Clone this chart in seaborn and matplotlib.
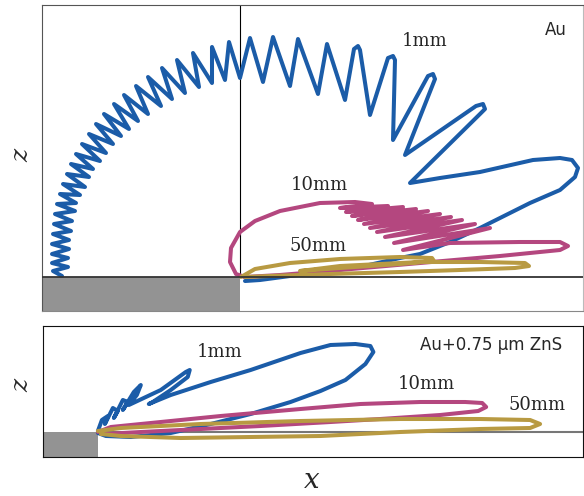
import numpy as np
import matplotlib
matplotlib.use("Agg")
import matplotlib.pyplot as plt
import pandas as pd
import seaborn as sns

# trajectory data (x, z), z = 0 is the surface
# --- upper panel: Au ---
au_1mm_x = [-178, -187, -172, -188, -172, -188, -171, -188, -171, -187, -169, -186, -168, -185, -165,
            -183, -164, -180, -160, -177, -155, -173, -151, -169, -147, -164, -140, -158, -134, -151,
            -127, -144, -119, -136, -111, -126, -102, -116, -92, -104, -79, -92, -68, -78, -55, -63,
            -41, -47, -28, -28, -15, -11, 0, 10, 23, 33, 50, 58, 78, 87, 105, 114, 118, 120, 130,
            148, 153, 155, 153, 188, 193, 195, 165, 236, 243, 245, 240, 170,
            200, 240, 293, 320, 332, 338, 335, 320, 290, 270, 240, 210, 180,
            160, 120, 80, 50, 20, 5]
au_1mm_z = [1, 6, 10, 14, 19, 23, 28, 33, 37, 43, 46, 53, 56, 63, 66,
            73, 74, 83, 82, 93, 90, 103, 100, 113, 108, 123, 116, 133, 124, 143,
            133, 153, 141, 163, 148, 173, 156, 182, 163, 191, 171, 200, 178, 209, 184, 217,
            190, 224, 194, 230, 197, 235, 199, 239, 195, 240, 191, 238, 183, 233, 177, 228, 231, 227, 162,
            219, 221, 217, 137, 201, 203, 198, 122, 171, 173, 168, 163, 94,
            99, 105, 117, 119, 117, 109, 100, 87, 74, 64, 49, 35, 23,
            19, 10, 5, 1, -3, -4]

au_10mm_x = [5, -4, -10, -9, 0, 15, 40, 80, 115,
             132, 100, 148, 106, 163, 112, 176, 118, 188, 124, 200, 130,
             211, 137, 222, 145, 235, 154, 250, 163,
             210, 280, 320, 328, 320, 260, 180, 100, 40, 5]
au_10mm_z = [0, 3, 15, 29, 45, 56, 66, 74, 75,
             73, 69, 71, 65, 70, 61, 68, 57, 66, 53, 63, 49,
             60, 45, 57, 40, 53, 34, 49, 27,
             34, 35, 35, 31, 27, 21, 14, 7, 2, 0]

au_50mm_x = [1, 15, 50, 100, 160, 192, 194, 160, 100, 60, 100, 180, 240, 285, 289, 275, 220, 160, 90, 30, 5]
au_50mm_z = [0, 8, 14, 18, 20, 19, 16, 13, 9, 6, 11, 15, 15, 14, 11, 9, 7, 5, 3, 1, 0]

# --- lower panel: Au + 0.75 um ZnS ---
zns_1mm_x = [0, 4, 10, 7, 15, 20, 16, 25, 30, 25, 36, 43, 39, 31, 63, 88, 92, 90, 73, 55, 51, 73,
             113, 153, 203, 233, 258, 273, 276, 268, 248, 223, 193, 153, 113, 73, 33, 8, 0]
zns_1mm_z = [1, 12, 16, 8, 24, 21, 14, 32, 30, 22, 40, 47, 37, 27, 42, 60, 62, 55, 42, 30, 28, 37,
             50, 62, 79, 87, 88, 86, 80, 68, 52, 41, 30, 18, 8, -1, -5, -4, -1]

zns_10mm_x = [0, 13, 63, 123, 203, 263, 323, 368, 385, 389, 381, 343, 283, 233, 163, 103, 43, 8]
zns_10mm_z = [0, 5, 10, 16, 23, 28, 30, 30, 29, 25, 21, 17, 13, 10, 6, 3, 0, -2]

zns_50mm_x = [0, 23, 103, 203, 303, 383, 433, 443, 433, 383, 303, 223, 153, 83, 23, 3]
zns_50mm_z = [1, 4, 8, 11, 13, 13, 12, 8, 4, 3, 0, -4, -5, -6, -4, -2]

blue, pink, gold = "#1b5ca8", "#b4477f", "#b89a42"

top_curves = [(au_1mm_x, au_1mm_z, blue), (au_10mm_x, au_10mm_z, pink), (au_50mm_x, au_50mm_z, gold)]
bot_curves = [(zns_1mm_x, zns_1mm_z, blue), (zns_10mm_x, zns_10mm_z, pink), (zns_50mm_x, zns_50mm_z, gold)]

sns.set_style("white")
fig = plt.figure(figsize=(5.84, 4.96), dpi=100)
ax1 = fig.add_axes([42 / 584, 1 - 311 / 496, 541 / 584, 306 / 496])
ax2 = fig.add_axes([43 / 584, 1 - 457 / 496, 540 / 584, 131 / 496])


def draw(ax, curves):
    for xs, zs, c in curves:
        df = pd.DataFrame({"x": xs, "z": zs})
        sns.lineplot(data=df, x="x", y="z", sort=False, estimator=None, color=c,
                     linewidth=2.9, solid_joinstyle="round", solid_capstyle="round", ax=ax)


# upper panel
ax1.set_xlim(-198, 343)
ax1.set_ylim(-34, 272)
ax1.add_patch(plt.Rectangle((-198, -34), 198, 34, color="#939393", zorder=0, lw=0))
draw(ax1, top_curves)
ax1.axhline(0, color="#333333", lw=1.3, zorder=5)
ax1.plot([0, 0], [0, 272], color="black", lw=0.8, zorder=1)
ax1.text(185, 236, "1mm", family="DejaVu Serif", fontsize=13, ha="center", va="center")
ax1.text(79, 92, "10mm", family="DejaVu Serif", fontsize=13, ha="center", va="center")
ax1.text(78, 31, "50mm", family="DejaVu Serif", fontsize=13, ha="center", va="center")
ax1.text(316, 247, "Au", fontsize=12, ha="center", va="center")
for s in ["left", "top"]:
    ax1.spines[s].set_color("#555555")
ax1.spines["right"].set_color("#bbbbbb")
ax1.spines["bottom"].set_color("#888888")

# lower panel
ax2.set_xlim(-55, 486)
ax2.set_ylim(-25, 106)
ax2.add_patch(plt.Rectangle((-55, -25), 55, 25, color="#939393", zorder=0, lw=0))
draw(ax2, bot_curves)
ax2.plot([0, 486], [0, 0], color="#777777", lw=1.5, zorder=1)
ax2.text(122, 80, "1mm", family="DejaVu Serif", fontsize=13, ha="center", va="center")
ax2.text(329, 48, "10mm", family="DejaVu Serif", fontsize=13, ha="center", va="center")
ax2.text(440, 27, "50mm", family="DejaVu Serif", fontsize=13, ha="center", va="center")
ax2.text(394, 87, "Au+0.75 \u03bcm ZnS", fontsize=12, ha="center", va="center")
for s in ax2.spines.values():
    s.set_color("#111111")

for ax in (ax1, ax2):
    ax.set_xticks([])
    ax.set_yticks([])
    ax.set_xlabel("")
    ax.set_ylabel("")

fig.text(22 / 584, 1 - 155 / 496, "z", family="DejaVu Serif", style="italic", fontsize=18,
         rotation=90, ha="center", va="center")
fig.text(22 / 584, 1 - 385 / 496, "z", family="DejaVu Serif", style="italic", fontsize=18,
         rotation=90, ha="center", va="center")
fig.text(312 / 584, 1 - 481 / 496, "x", family="DejaVu Serif", style="italic", fontsize=20,
         ha="center", va="center")

fig.savefig("out.png", dpi=100)
